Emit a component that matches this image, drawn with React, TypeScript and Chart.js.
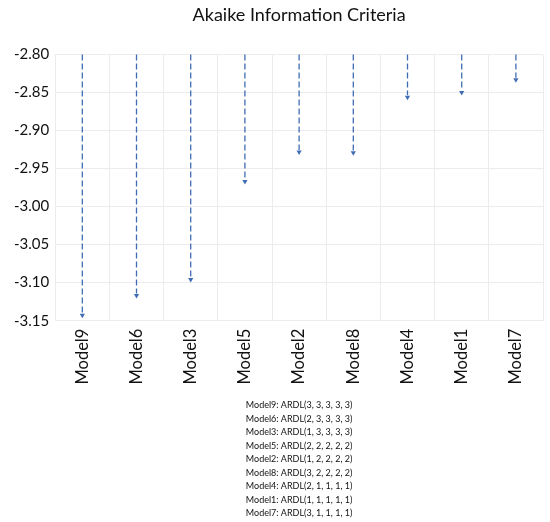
import { useEffect, useRef } from "react";
import { Chart, registerables } from "chart.js";

Chart.register(...registerables);

const models = ["Model9", "Model6", "Model3", "Model5", "Model2", "Model8", "Model4", "Model1", "Model7"];
const aic = [-3.143, -3.117, -3.096, -2.967, -2.928, -2.929, -2.856, -2.85, -2.833];
const specs = [
  "ARDL(3, 3, 3, 3, 3)",
  "ARDL(2, 3, 3, 3, 3)",
  "ARDL(1, 3, 3, 3, 3)",
  "ARDL(2, 2, 2, 2, 2)",
  "ARDL(1, 2, 2, 2, 2)",
  "ARDL(3, 2, 2, 2, 2)",
  "ARDL(2, 1, 1, 1, 1)",
  "ARDL(1, 1, 1, 1, 1)",
  "ARDL(3, 1, 1, 1, 1)",
];
const yTop = -2.8;
const yBottom = -3.15;

const FONT = "Lato, 'Open Sans', sans-serif";
const BLUE = "#3f6db3";

// dashed stems from the top of the axis down to each point
const stemPlugin = {
  id: "stems",
  beforeDatasetsDraw(chart: Chart) {
    const { ctx } = chart;
    const y = chart.scales.y;
    const meta = chart.getDatasetMeta(0);
    const top = y.getPixelForValue(yTop);
    ctx.save();
    ctx.strokeStyle = BLUE;
    ctx.lineWidth = 1.3;
    ctx.setLineDash([6, 3]);
    meta.data.forEach((pt: any) => {
      ctx.beginPath();
      ctx.moveTo(pt.x, top);
      ctx.lineTo(pt.x, pt.y - 2);
      ctx.stroke();
    });
    ctx.restore();
  },
};

export default function App() {
  const canvasRef = useRef<HTMLCanvasElement>(null);
  const chartRef = useRef<Chart | null>(null);

  useEffect(() => {
    if (!canvasRef.current) return;
    chartRef.current?.destroy();
    chartRef.current = new Chart(canvasRef.current, {
      type: "line",
      data: {
        labels: models,
        datasets: [
          {
            label: "AIC",
            data: aic,
            showLine: false,
            pointStyle: "triangle",
            rotation: 180,
            pointRadius: 3,
            pointBackgroundColor: BLUE,
            pointBorderColor: BLUE,
            pointBorderWidth: 0,
          },
        ],
      },
      options: {
        animation: false,
        responsive: true,
        maintainAspectRatio: false,
        layout: { padding: { left: 8, right: 7, top: 4, bottom: 2 } },
        plugins: {
          legend: { display: false },
          tooltip: { enabled: false },
          title: {
            display: true,
            text: "Akaike Information Criteria",
            fullSize: false,
            color: "#111",
            font: { family: FONT, size: 18, weight: "normal" },
            padding: { top: 0, bottom: 29 },
          },
          subtitle: {
            display: true,
            position: "bottom",
            fullSize: false,
            text: models.map((m, i) => `${m}: ${specs[i]}`),
            color: "#111",
            font: { family: FONT, size: 9, lineHeight: 1.5 },
            padding: { top: 6, bottom: 0 },
          },
        },
        scales: {
          x: {
            offset: true,
            grid: { color: "#ececec", offset: true, drawTicks: false },
            border: { display: false },
            ticks: {
              color: "#111",
              font: { family: FONT, size: 16.5 },
              minRotation: 90,
              maxRotation: 90,
              padding: 8,
            },
          },
          y: {
            min: yBottom,
            max: yTop,
            grid: { color: "#ececec", drawTicks: false },
            border: { display: false },
            ticks: {
              stepSize: 0.05,
              color: "#111",
              font: { family: FONT, size: 15 },
              padding: 6,
              callback: (v) => Number(v).toFixed(2),
            },
          },
        },
      },
      plugins: [stemPlugin],
    });
    return () => chartRef.current?.destroy();
  }, []);

  return (
    <div style={{ position: "fixed", left: 0, top: 0, width: 550, height: 522, background: "#fff" }}>
      <canvas ref={canvasRef} role="img" aria-label="Akaike Information Criteria by model" />
    </div>
  );
}
